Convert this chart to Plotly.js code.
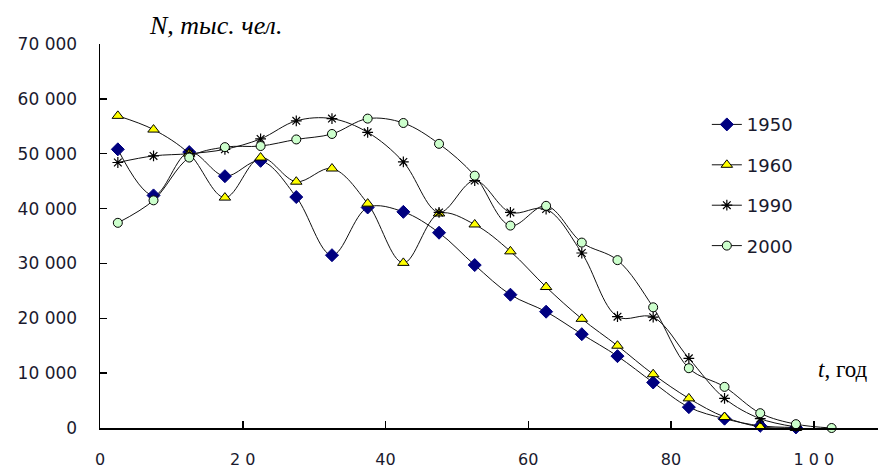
<!DOCTYPE html>
<html>
<head>
<meta charset="utf-8">
<script src="https://cdn.plot.ly/plotly-3.0.1.min.js"></script>
<style>html,body{margin:0;padding:0;background:#fff;}#chart{width:878px;height:469px;}</style>
</head>
<body>
<div id="chart"></div>
<script>
// Age (mid-point of 5-year groups), years
const ages = [2.5, 7.5, 12.5, 17.5, 22.5, 27.5, 32.5, 37.5, 42.5, 47.5, 52.5, 57.5, 62.5, 67.5, 72.5, 77.5, 82.5, 87.5, 92.5, 97.5, 102.5];
// Population, thousand people
const n1950 = [50800, 42400, 50300, 45900, 48700, 42100, 31500, 40200, 39400, 35600, 29700, 24300, 21200, 17100, 13100, 8300, 3800, 1700, 400, 100];
const n1960 = [56900, 54400, 50000, 42000, 49300, 44900, 47300, 40900, 30100, 39100, 37100, 32200, 25700, 19900, 15000, 9800, 5400, 2000, 200, 0];
const n1990 = [48400, 49600, 50000, 50800, 52700, 56000, 56400, 53900, 48500, 39300, 45100, 39300, 39900, 31900, 20300, 20200, 12700, 5400, 1700, 200];
const n2000 = [37400, 41500, 49300, 51200, 51400, 52600, 53600, 56400, 55600, 51800, 46000, 36900, 40500, 33800, 30600, 22000, 10900, 7500, 2700, 700, 0];
const seriesNames = ['1950', '1960', '1990', '2000'];
const xTickVals = [0, 20, 40, 60, 80, 100];
const xTickText = ['0', '2 0', '40', '60', '80', '1 0 0'];
const yTickVals = [0, 10000, 20000, 30000, 40000, 50000, 60000, 70000];

const lineStyle = {color: '#111', width: 1, shape: 'spline', smoothing: 1};
const markerStyles = [
  {symbol: 'diamond', size: 10, color: '#000080', line: {color: '#000080', width: 1}},
  {symbol: 'triangle-up', size: 10, color: '#FFFF00', line: {color: '#000', width: 1}},
  {symbol: 'asterisk-open', size: 9, color: '#000', line: {color: '#000', width: 1.2}},
  {symbol: 'circle', size: 9, color: '#CCFFCC', line: {color: '#000', width: 1}}
];
const seriesData = [n1950, n1960, n1990, n2000];

const traces = seriesData.map((vals, i) => ({
  type: 'scatter',
  mode: 'lines+markers',
  x: ages.slice(0, vals.length),
  y: vals,
  name: seriesNames[i],
  legendgroup: 'g' + i,
  line: lineStyle,
  marker: markerStyles[i],
  cliponaxis: false
}));

const layout = {
  width: 878,
  height: 469,
  margin: {l: 100, r: 0, t: 44, b: 41},
  paper_bgcolor: '#fff',
  plot_bgcolor: '#fff',
  separators: ', ',
  showlegend: true,
  legend: {
    x: 0.78, y: 0.838, xanchor: 'left', yanchor: 'top',
    traceorder: 'grouped', tracegroupgap: 14,
    font: {family: 'DejaVu Sans', size: 18, color: '#1a1a2e'},
    bgcolor: 'rgba(0,0,0,0)', borderwidth: 0
  },
  xaxis: {
    range: [0, 109],
    showgrid: false, zeroline: false,
    showline: true, linecolor: '#000', linewidth: 1.5,
    ticks: 'inside', ticklen: 7, tickwidth: 1.5, tickcolor: '#000',
    tickvals: xTickVals, ticktext: xTickText,
    ticklabelstandoff: 16,
    tickfont: {family: 'DejaVu Sans', size: 16, color: '#1a1a2e'}
  },
  yaxis: {
    range: [0, 70000],
    showgrid: false, zeroline: false,
    showline: true, linecolor: '#000', linewidth: 1.5,
    ticks: 'inside', ticklen: 7, tickwidth: 1.5, tickcolor: '#000',
    tickvals: yTickVals, tickformat: ',d',
    ticklabelstandoff: 18,
    tickfont: {family: 'DejaVu Sans', size: 17, color: '#1a1a2e'}
  },
  annotations: [
    {text: '<i>N, тыс. чел.</i>', xref: 'paper', yref: 'paper', x: 0.061, y: 1.047,
     xanchor: 'left', yanchor: 'middle', showarrow: false,
     font: {family: 'Liberation Serif', size: 26, color: '#000'}},
    {text: '<i>t</i>, год', xref: 'paper', yref: 'paper', x: 0.92, y: 0.152,
     xanchor: 'left', yanchor: 'middle', showarrow: false,
     font: {family: 'Liberation Serif', size: 23, color: '#000'}}
  ]
};

Plotly.newPlot('chart', traces, layout, {staticPlot: true, displayModeBar: false});
</script>
</body>
</html>
